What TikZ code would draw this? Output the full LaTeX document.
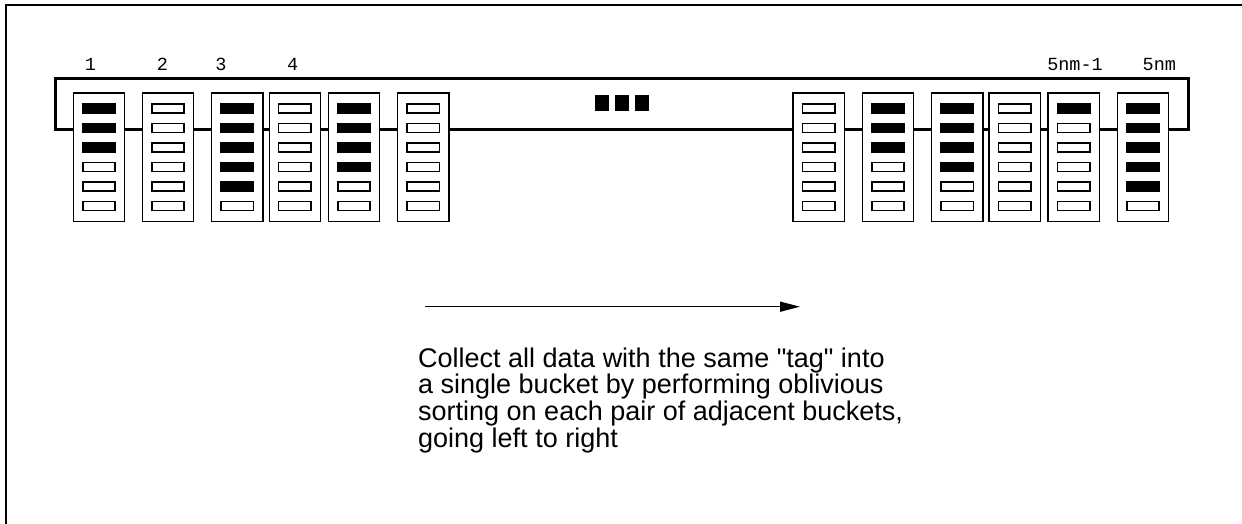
\documentclass[tikz,border=0pt]{standalone}
\usepackage{fontspec}
\setmainfont{Liberation Sans}[Ligatures=TeXOff]
\newfontfamily\monofont{Liberation Mono}
\usetikzlibrary{arrows.meta}
\tikzset{
	bucket/.style={draw,fill=white,line width=1.3pt,minimum width=51.3pt,minimum height=128.7pt,inner sep=0pt},
	slot/.style={draw,line width=1.6pt,minimum width=32.5pt,minimum height=9pt,inner sep=0pt},
	lbl/.style={font=\monofont\fontsize{18.5pt}{20pt}\selectfont,inner sep=0pt,anchor=base},
	sq/.style={fill=black,minimum width=14pt,minimum height=15.7pt,inner sep=0pt},
	caption/.style={font=\fontsize{27pt}{26.7pt}\selectfont,align=left,inner sep=0pt,anchor=north west}
}
\begin{document}
\begin{tikzpicture}[x=1pt,y=-1pt]
	\useasboundingbox (0,0) rectangle (1242,524);
	\draw [line width=2pt] (6,524) -- (6,5) -- (1242,5);
	\draw [line width=3pt] (55,79) rectangle (1188.3,129.3);
	
	\node [bucket] (b1) at (99,157.3) {};
	\node [bucket] (b2) at (168,157.3) {};
	\node [bucket] (b3) at (237.2,157.3) {};
	\node [bucket] (b4) at (294.8,157.3) {};
	\node [bucket] (b5) at (354,157.3) {};
	\node [bucket] (b6) at (423.3,157.3) {};
	\node [bucket] (b7) at (818.7,157.3) {};
	\node [bucket] (b8) at (888,157.3) {};
	\node [bucket] (b9) at (957.2,157.3) {};
	\node [bucket] (b10) at (1014.7,157.3) {};
	\node [bucket] (b11) at (1073.7,157.3) {};
	\node [bucket] (b12) at (1143,157.3) {};
	
	% filled slots from the top
	\foreach \b/\k in {b1/3,b2/0,b3/5,b4/0,b5/4,b6/0,b7/0,b8/3,b9/4,b10/0,b11/1,b12/5}
		\foreach \r in {1,...,6} {
			\ifnum\r>\k \def\slotfill{white}\else\def\slotfill{black}\fi
			\node [slot, fill=\slotfill, yshift={(3.5-\r)*19.5pt}] at (\b) {};
		}
	
	\node [lbl] (n1) at (90.5,70.5) {1};
	\node [lbl] (n2) at (162.5,70.5) {2};
	\node [lbl] (n3) at (221,70.5) {3};
	\node [lbl] (n4) at (292.7,70.5) {4};
	\node [lbl] (n5) at (1075,70.5) {5nm-1};
	\node [lbl] (n6) at (1159.3,70.5) {5nm};
	
	\node [sq] (s1) at (602,103) {};
	\node [sq] (s2) at (622,103) {};
	\node [sq] (s3) at (642,103) {};
	
	\coordinate (arrowstart) at (425,306.7);
	\coordinate (arrowend) at (800,306.7);
	\draw [-{Triangle[length=20pt,width=10pt]}, line width=1.5pt] (arrowstart) -- (arrowend);
	
	\node [caption] (note) at (418,347.5) {Collect all data with the same "tag" into\\a single bucket by performing oblivious\\sorting on each pair of adjacent buckets,\\going left to right};
\end{tikzpicture}
\end{document}
